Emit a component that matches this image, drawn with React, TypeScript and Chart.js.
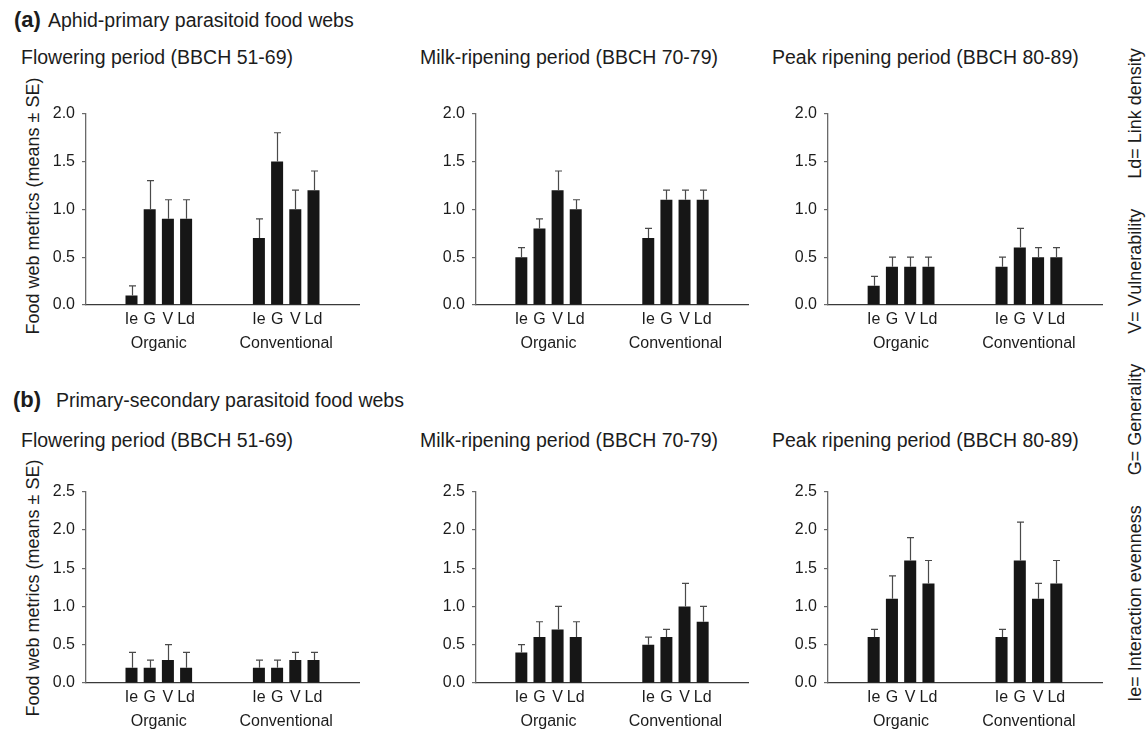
import React, { useEffect, useRef } from "react";
import { Chart, registerables } from "chart.js";

Chart.register(...registerables);

// ---------- data ----------
const METRICS = ["Ie", "G", "V", "Ld"];
const GROUPS = ["Organic", "Conventional"];
const PERIODS = [
  "Flowering period (BBCH 51-69)",
  "Milk-ripening period (BBCH 70-79)",
  "Peak ripening period (BBCH 80-89)",
];
const ROW_LETTERS = ["(a)", "(b)"];
const ROW_TITLES = ["Aphid-primary parasitoid food webs", "Primary-secondary parasitoid food webs"];
const Y_TITLE = "Food web metrics (means ± SE)";
const LEGEND_ITEMS = ["Ie= Interaction evenness", "G= Generality", "V= Vulnerability", "Ld= Link density"];
const Y_MAX = [2.0, 2.5];
const Y_STEP = 0.5;

// (a) Aphid-primary parasitoid food webs
const A_FLOWER_ORG = [0.1, 1.0, 0.9, 0.9];
const A_FLOWER_ORG_SE = [0.1, 0.3, 0.2, 0.2];
const A_FLOWER_CONV = [0.7, 1.5, 1.0, 1.2];
const A_FLOWER_CONV_SE = [0.2, 0.3, 0.2, 0.2];

const A_MILK_ORG = [0.5, 0.8, 1.2, 1.0];
const A_MILK_ORG_SE = [0.1, 0.1, 0.2, 0.1];
const A_MILK_CONV = [0.7, 1.1, 1.1, 1.1];
const A_MILK_CONV_SE = [0.1, 0.1, 0.1, 0.1];

const A_PEAK_ORG = [0.2, 0.4, 0.4, 0.4];
const A_PEAK_ORG_SE = [0.1, 0.1, 0.1, 0.1];
const A_PEAK_CONV = [0.4, 0.6, 0.5, 0.5];
const A_PEAK_CONV_SE = [0.1, 0.2, 0.1, 0.1];

// (b) Primary-secondary parasitoid food webs
const B_FLOWER_ORG = [0.2, 0.2, 0.3, 0.2];
const B_FLOWER_ORG_SE = [0.2, 0.1, 0.2, 0.2];
const B_FLOWER_CONV = [0.2, 0.2, 0.3, 0.3];
const B_FLOWER_CONV_SE = [0.1, 0.1, 0.1, 0.1];

const B_MILK_ORG = [0.4, 0.6, 0.7, 0.6];
const B_MILK_ORG_SE = [0.1, 0.2, 0.3, 0.2];
const B_MILK_CONV = [0.5, 0.6, 1.0, 0.8];
const B_MILK_CONV_SE = [0.1, 0.1, 0.3, 0.2];

const B_PEAK_ORG = [0.6, 1.1, 1.6, 1.3];
const B_PEAK_ORG_SE = [0.1, 0.3, 0.3, 0.3];
const B_PEAK_CONV = [0.6, 1.6, 1.1, 1.3];
const B_PEAK_CONV_SE = [0.1, 0.5, 0.2, 0.3];

const ROWS = [
  [
    { org: A_FLOWER_ORG, orgSe: A_FLOWER_ORG_SE, conv: A_FLOWER_CONV, convSe: A_FLOWER_CONV_SE },
    { org: A_MILK_ORG, orgSe: A_MILK_ORG_SE, conv: A_MILK_CONV, convSe: A_MILK_CONV_SE },
    { org: A_PEAK_ORG, orgSe: A_PEAK_ORG_SE, conv: A_PEAK_CONV, convSe: A_PEAK_CONV_SE },
  ],
  [
    { org: B_FLOWER_ORG, orgSe: B_FLOWER_ORG_SE, conv: B_FLOWER_CONV, convSe: B_FLOWER_CONV_SE },
    { org: B_MILK_ORG, orgSe: B_MILK_ORG_SE, conv: B_MILK_CONV, convSe: B_MILK_CONV_SE },
    { org: B_PEAK_ORG, orgSe: B_PEAK_ORG_SE, conv: B_PEAK_CONV, convSe: B_PEAK_CONV_SE },
  ],
];

// ---------- layout / style ----------
const FONT = "'Liberation Sans', Arial, Helvetica, sans-serif";
const TEXT = "#1c1c1c";
const LEAD_SLOTS = 2;
const GAP_SLOTS = 3;
const TRAIL_SLOTS = 2;
const AXIS_X = [86, 476, 828];
const PLOT_W = [273, 272, 274];
const ROW_TOP = [109, 487];
const PLOT_H = 196;
const Y_SCALE_W = 76;
const PAD_TOP = 12;
const PAD_RIGHT = 6;
const X_SCALE_H = 52;
const HEADING_BASELINE = [28, 408];
const LETTER_X = [14, 13];
const TITLE_X = [48, 56];
const SUBTITLE_X = [21, 420, 772];
const SUBTITLE_BASELINE = [65, 448];
const Y_TITLE_X = 33;
const Y_TITLE_CY = [206, 588];
const LEGEND_X = 1135;
const LEGEND_CY = 375;
const LEGEND_GAP = 30;

function buildSlots(org: number[], orgSe: number[], conv: number[], convSe: number[]) {
  const labels: string[] = [];
  const values: (number | null)[] = [];
  const errors: (number | null)[] = [];
  const groupIdx: number[][] = [[], []];
  const pad = (n: number) => {
    for (let i = 0; i < n; i++) {
      labels.push("");
      values.push(null);
      errors.push(null);
    }
  };
  const group = (g: number, v: number[], e: number[]) => {
    METRICS.forEach((m, i) => {
      groupIdx[g].push(labels.length);
      labels.push(m);
      values.push(v[i]);
      errors.push(e[i]);
    });
  };
  pad(LEAD_SLOTS);
  group(0, org, orgSe);
  pad(GAP_SLOTS);
  group(1, conv, convSe);
  pad(TRAIL_SLOTS);
  return { labels, values, errors, groupIdx };
}

const errorBarPlugin = {
  id: "errorBars",
  afterDatasetsDraw(chart: any) {
    const ds = chart.data.datasets[0];
    const meta = chart.getDatasetMeta(0);
    const y = chart.scales.y;
    const ctx = chart.ctx;
    ctx.save();
    ctx.strokeStyle = "#4a4a4a";
    ctx.lineWidth = 1.2;
    ds.data.forEach((v: number | null, i: number) => {
      const e = ds.errors[i];
      if (v == null || e == null) return;
      const bar = meta.data[i];
      const x = Math.round(bar.x) + 0.5;
      const top = y.getPixelForValue(v + e);
      ctx.beginPath();
      ctx.moveTo(x, bar.y);
      ctx.lineTo(x, top);
      ctx.moveTo(x - 3.5, top);
      ctx.lineTo(x + 3.5, top);
      ctx.stroke();
    });
    ctx.restore();
  },
};

const groupLabelPlugin = {
  id: "groupLabels",
  afterDraw(chart: any) {
    const ds = chart.data.datasets[0];
    const xs = chart.scales.x;
    const ctx = chart.ctx;
    ctx.save();
    ctx.fillStyle = TEXT;
    ctx.font = `16px ${FONT}`;
    ctx.textAlign = "center";
    ctx.textBaseline = "alphabetic";
    ds.groupIdx.forEach((idx: number[], g: number) => {
      const x0 = xs.getPixelForValue(idx[0]);
      const x1 = xs.getPixelForValue(idx[idx.length - 1]);
      ctx.fillText(GROUPS[g], (x0 + x1) / 2, chart.chartArea.bottom + 43);
    });
    ctx.restore();
  },
};

function Panel({ row, col }: { row: number; col: number }) {
  const ref = useRef<HTMLCanvasElement>(null);
  const w = Y_SCALE_W + PLOT_W[col] + PAD_RIGHT;
  const h = PAD_TOP + PLOT_H + X_SCALE_H;
  const left = AXIS_X[col] - Y_SCALE_W;
  const top = ROW_TOP[row] - PAD_TOP;

  useEffect(() => {
    const p = ROWS[row][col];
    const s = buildSlots(p.org, p.orgSe, p.conv, p.convSe);
    const chart = new Chart(ref.current as HTMLCanvasElement, {
      type: "bar",
      data: {
        labels: s.labels,
        datasets: [
          {
            data: s.values,
            errors: s.errors,
            groupIdx: s.groupIdx,
            backgroundColor: "#161616",
            borderWidth: 0,
            barPercentage: 0.66,
            categoryPercentage: 1,
          } as any,
        ],
      },
      options: {
        animation: false,
        responsive: false,
        events: [],
        layout: { padding: { top: PAD_TOP, right: PAD_RIGHT, bottom: 0, left: 0 } },
        plugins: { legend: { display: false }, tooltip: { enabled: false }, title: { display: false } },
        scales: {
          x: {
            type: "category",
            offset: true,
            grid: { display: false, drawTicks: false },
            border: { display: true, color: "#3a3a3a", width: 1.3 },
            ticks: {
              autoSkip: false,
              maxRotation: 0,
              minRotation: 0,
              padding: 5,
              color: TEXT,
              font: { family: FONT, size: 16 },
            },
            afterFit: (sc: any) => {
              sc.height = X_SCALE_H;
            },
          },
          y: {
            min: 0,
            max: Y_MAX[row],
            ticks: {
              stepSize: Y_STEP,
              padding: 7,
              color: TEXT,
              font: { family: FONT, size: 16 },
              callback: (v: any) => Number(v).toFixed(1),
            },
            grid: { drawOnChartArea: false, drawTicks: true, tickLength: 4, color: "#6a6a6a", lineWidth: 1.2 },
            border: { display: true, color: "#6a6a6a", width: 1.3 },
            afterFit: (sc: any) => {
              sc.width = Y_SCALE_W;
            },
          },
        },
      },
      plugins: [errorBarPlugin, groupLabelPlugin],
    });
    return () => chart.destroy();
  }, [row, col]);

  return (
    <canvas
      ref={ref}
      width={w}
      height={h}
      style={{ position: "absolute", left, top, width: w, height: h }}
    />
  );
}

function TextAt({ x, baseline, size, bold, children }: any) {
  return (
    <div
      style={{
        position: "absolute",
        left: x,
        top: baseline - size * 0.85,
        fontSize: size,
        lineHeight: `${size}px`,
        fontWeight: bold ? 700 : 400,
        whiteSpace: "nowrap",
        color: TEXT,
      }}
    >
      {children}
    </div>
  );
}

function Rotated({ x, y, size, children }: any) {
  return (
    <div
      style={{
        position: "absolute",
        left: x,
        top: y,
        transform: "translate(-50%, -50%) rotate(-90deg)",
        fontSize: size,
        lineHeight: `${size}px`,
        whiteSpace: "nowrap",
        color: TEXT,
      }}
    >
      {children}
    </div>
  );
}

export default function App() {
  return (
    <div
      style={{
        position: "absolute",
        left: 0,
        top: 0,
        width: 1146,
        height: 733,
        background: "#ffffff",
        fontFamily: FONT,
        overflow: "hidden",
      }}
    >
      {ROW_LETTERS.map((letter, r) => (
        <React.Fragment key={"h" + r}>
          <TextAt x={LETTER_X[r]} baseline={HEADING_BASELINE[r]} size={22} bold>
            {letter}
          </TextAt>
          <TextAt x={TITLE_X[r]} baseline={HEADING_BASELINE[r]} size={19.5}>
            {ROW_TITLES[r]}
          </TextAt>
        </React.Fragment>
      ))}
      {[0, 1].map((r) =>
        PERIODS.map((p, c) => (
          <TextAt key={`s${r}${c}`} x={SUBTITLE_X[c]} baseline={SUBTITLE_BASELINE[r]} size={19.5}>
            {p}
          </TextAt>
        ))
      )}
      {[0, 1].map((r) => (
        <Rotated key={"yt" + r} x={Y_TITLE_X} y={Y_TITLE_CY[r]} size={18}>
          {Y_TITLE}
        </Rotated>
      ))}
      {[0, 1].map((r) => [0, 1, 2].map((c) => <Panel key={`p${r}${c}`} row={r} col={c} />))}
      <Rotated x={LEGEND_X} y={LEGEND_CY} size={18}>
        {LEGEND_ITEMS.map((t, i) => (
          <span key={"l" + i} style={{ marginLeft: i === 0 ? 0 : LEGEND_GAP }}>
            {t}
          </span>
        ))}
      </Rotated>
    </div>
  );
}
